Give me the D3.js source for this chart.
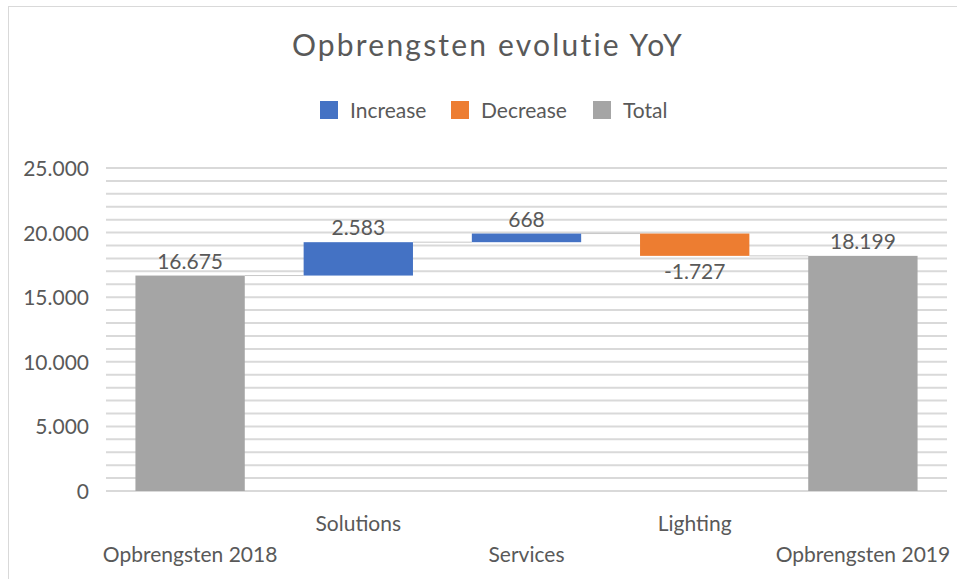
<!DOCTYPE html>
<html>
<head>
<meta charset="utf-8">
<script src="https://cdn.jsdelivr.net/npm/d3@7"></script>
<style>
  body { margin: 0; background: #fff; }
  svg text { font-family: Lato, "Open Sans", sans-serif; fill: #595959; }
</style>
</head>
<body>
<svg id="chart" width="957" height="579"></svg>
<script>
// waterfall data
var categories = ['Opbrengsten 2018', 'Solutions', 'Services', 'Lighting', 'Opbrengsten 2019'];
var values = [16675, 2583, 668, -1727, 18199];
var kinds = ['total', 'increase', 'increase', 'decrease', 'total'];
var labels = ['16.675', '2.583', '668', '-1.727', '18.199'];
var yTicks = [0, 5000, 10000, 15000, 20000, 25000];

var colors = { increase: '#4472C4', decrease: '#ED7D31', total: '#A5A5A5' };
var legendItems = [['Increase', 'increase'], ['Decrease', 'decrease'], ['Total', 'total']];

var svg = d3.select('#chart');

// outer chart border
svg.append('rect')
  .attr('x', 8.5).attr('y', 6.5)
  .attr('width', 1000).attr('height', 1000)
  .attr('fill', 'none').attr('stroke', '#D9D9D9');

var plotLeft = 106, plotRight = 947, plotTop = 168, plotBottom = 491;

var x = d3.scaleBand().domain(categories).range([plotLeft, plotRight]).paddingInner(0.35).paddingOuter(0.175);
var y = d3.scaleLinear().domain([0, 25000]).range([plotBottom, plotTop]);

// build running totals
var bars = [];
var running = 0;
for (var i = 0; i < categories.length; i++) {
  var b = { cat: categories[i], kind: kinds[i], label: labels[i], value: values[i] };
  if (kinds[i] == 'total') {
    b.y0 = 0; b.y1 = values[i];
    running = values[i];
  } else {
    b.y0 = running; b.y1 = running + values[i];
    running = b.y1;
  }
  bars.push(b);
}

// gridlines
svg.append('g')
  .selectAll('line')
  .data(d3.range(0, 25001, 1000))
  .enter()
  .append('line')
  .attr('x1', plotLeft).attr('x2', plotRight)
  .attr('y1', d => y(d)).attr('y2', d => y(d))
  .attr('stroke', '#D9D9D9')
  .attr('stroke-width', 2);

// y axis labels
svg.append('g')
  .selectAll('text')
  .data(yTicks)
  .enter()
  .append('text')
  .attr('x', 89)
  .attr('y', d => y(d) + 8)
  .attr('text-anchor', 'end')
  .style('font-size', '21px')
  .text(d => d3.format(',')(d).replace(/,/g, '.'));

// connectors
for (var i = 0; i < bars.length - 1; i++) {
  svg.append('line')
    .attr('x1', x(bars[i].cat) + x.bandwidth())
    .attr('x2', x(bars[i + 1].cat))
    .attr('y1', y(bars[i].y1)).attr('y2', y(bars[i].y1))
    .attr('stroke', '#C8C8C8')
    .attr('stroke-width', 1);
}

// bars
svg.append('g')
  .selectAll('rect')
  .data(bars)
  .enter()
  .append('rect')
  .attr('x', d => x(d.cat))
  .attr('width', x.bandwidth())
  .attr('y', d => y(Math.max(d.y0, d.y1)))
  .attr('height', d => Math.abs(y(d.y0) - y(d.y1)))
  .attr('fill', d => colors[d.kind]);

// data labels
svg.append('g')
  .selectAll('text')
  .data(bars)
  .enter()
  .append('text')
  .attr('x', d => x(d.cat) + x.bandwidth() / 2)
  .attr('y', d => d.value < 0 ? y(Math.min(d.y0, d.y1)) + 23 : y(Math.max(d.y0, d.y1)) - 7)
  .attr('text-anchor', 'middle')
  .style('font-size', '21px')
  .text(d => d.label);

// category labels, staggered
svg.append('g')
  .selectAll('text')
  .data(categories)
  .enter()
  .append('text')
  .attr('x', d => x(d) + x.bandwidth() / 2)
  .attr('y', (d, i) => i % 2 == 0 ? 562 : 531)
  .attr('text-anchor', 'middle')
  .style('font-size', '21px')
  .text(d => d);

// title
svg.append('text')
  .attr('x', 488).attr('y', 56)
  .attr('text-anchor', 'middle')
  .style('font-size', '30px')
  .style('letter-spacing', '2.2px')
  .text('Opbrengsten evolutie YoY');

// legend
var lx = [320, 451, 593];
var legend = svg.append('g')
  .selectAll('g')
  .data(legendItems)
  .enter()
  .append('g')
  .attr('transform', (d, i) => `translate(${lx[i]}, 101)`);
legend.append('rect')
  .attr('width', 18).attr('height', 18)
  .attr('fill', d => colors[d[1]]);
legend.append('text')
  .attr('x', 30).attr('y', 17)
  .style('font-size', '21px')
  .text(d => d[0]);
</script>
</body>
</html>
